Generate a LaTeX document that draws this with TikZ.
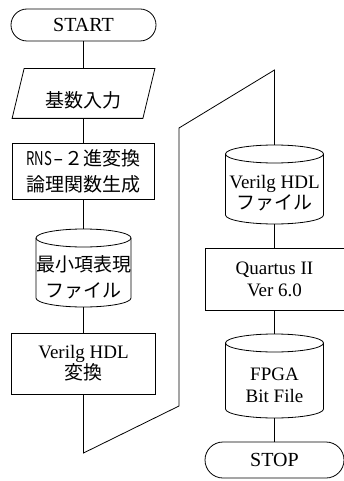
\documentclass[tikz,border=0pt]{standalone}
\usepackage{fontspec}
\setmainfont{Liberation Serif}
\newfontfamily\jp{Noto Sans CJK JP}
\newcommand{\cylshape}[5]{%
  \draw (#2-#5,-#3-9) -- (#2-#5,-#4+9)
        arc[start angle=180,end angle=360,x radius=#5pt,y radius=9pt]
        -- (#2+#5,-#3-9)
        arc[start angle=0,end angle=180,x radius=#5pt,y radius=9pt] -- cycle;
  \draw (#2-#5,-#3-9) arc[start angle=180,end angle=360,x radius=#5pt,y radius=9pt];
  \coordinate (#1top) at (#2,-#3);
  \coordinate (#1bot) at (#2,-#4);
}
\begin{document}
\begin{tikzpicture}[x=1pt,y=1pt,line width=0.8pt,
  lat/.style={align=center,inner sep=0pt,font=\fontsize{19}{22}\selectfont},
  jpt/.style={align=center,inner sep=0pt,font=\fontsize{19}{26}\selectfont\jp},
  mix/.style={align=center,inner sep=0pt,font=\fontsize{19}{21}\selectfont},
  boxnode/.style={draw,rectangle,inner sep=0pt},
  termnode/.style={draw,rectangle,inner sep=0pt,font=\fontsize{20}{22}\selectfont}]
\useasboundingbox (0,0) rectangle (344,-481);
% left column
\node[termnode,minimum width=145pt,minimum height=32pt,rounded corners=16pt] (start) at (83.5,-25) {START};
\node[jpt,minimum width=130pt,minimum height=49pt] (inp) at (83.5,-93.5) {};
\draw ([xshift=6pt]inp.north west) -- ([xshift=6pt]inp.north east) -- ([xshift=-6pt]inp.south east) -- ([xshift=-6pt]inp.south west) -- cycle;
\node[jpt] (inptext) at (83.5,-100) {基数入力};
\node[boxnode,jpt,minimum width=142pt,minimum height=56pt] (rns) at (83.5,-171)
  {\resizebox{1.35em}{\height}{RNS}\makebox[0.65em]{\resizebox{0.55em}{\height}{-}}２進変換\\論理関数生成};
\cylshape{c1}{83.5}{229}{307}{47.5}
\node[jpt] (c1text) at (83.5,-277) {最小項表現\\ファイル};
\node[boxnode,mix,minimum width=144pt,minimum height=61pt] (veri) at (83.5,-363.5) {Verilg HDL\\{\jp 変換}};
% right column
\cylshape{c2}{274.5}{145}{224}{49}
\node[mix] (c2text) at (274.5,-193.5) {Verilg HDL\\{\jp ファイル}};
\node[boxnode,lat,minimum width=139pt,minimum height=62pt] (quartus) at (274.5,-279) {Quartus II\\Ver 6.0};
\cylshape{c3}{274.5}{334}{418}{49}
\node[lat] (c3text) at (274.5,-385) {FPGA\\Bit File};
\node[termnode,minimum width=139pt,minimum height=36pt,rounded corners=18pt] (stop) at (274.5,-460) {STOP};
% connectors
\coordinate (b1) at (83.5,-453);
\coordinate (b2) at (179,-406);
\coordinate (b3) at (179,-128);
\coordinate (b4) at (274.5,-70);
\draw (start.south) -- (inp.north);
\draw (inp.south) -- (rns.north);
\draw (rns.south) -- (c1top);
\draw (c1bot) -- (veri.north);
\draw (veri.south) -- (b1) -- (b2) -- (b3) -- (b4) -- (c2top);
\draw (c2bot) -- (quartus.north);
\draw (quartus.south) -- (c3top);
\draw (c3bot) -- (stop.north);
\end{tikzpicture}
\end{document}
